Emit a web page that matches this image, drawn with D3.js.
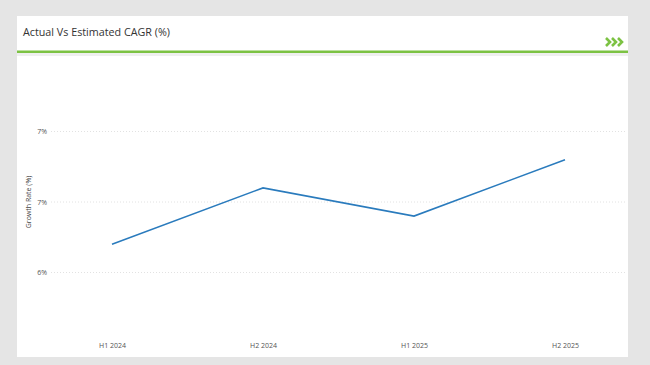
<!DOCTYPE html>
<html><head><meta charset="utf-8">
<script src="https://cdn.jsdelivr.net/npm/d3@7"></script>
<style>html,body{margin:0;padding:0;background:#e5e5e5;}svg{display:block;}</style>
</head><body>
<script>
const categories = ["H1 2024", "H2 2024", "H1 2025", "H2 2025"];
const growthRate = [6.7, 7.1, 6.9, 7.3];
const yTickValues = [6.5, 7.0, 7.5];
const yTickLabels = ["6%", "7%", "7%"];
const titleText = "Actual Vs Estimated CAGR (%)";
const yAxisTitle = "Growth Rate (%)";

const W = 650, H = 365;
const svg = d3.select("body").append("svg").attr("width", W).attr("height", H);
svg.append("rect").attr("width", W).attr("height", H).attr("fill", "#e5e5e5");
// header panel
svg.append("rect").attr("x", 17).attr("y", 16).attr("width", 611).attr("height", 37).attr("fill", "#fff");
svg.append("rect").attr("x", 17).attr("y", 53).attr("width", 611).attr("height", 3).attr("fill", "#efefef");
svg.append("rect").attr("x", 17).attr("y", 56).attr("width", 611).attr("height", 301).attr("fill", "#fff");
svg.append("rect").attr("x", 17).attr("y", 50.5).attr("width", 611).attr("height", 2.5).attr("fill", "#7cc243");
svg.append("text").attr("x", 23).attr("y", 36).text(titleText)
  .attr("font-family", "Open Sans, sans-serif").attr("font-size", 10.5).attr("fill", "#333")
  .attr("textLength", 147).attr("lengthAdjust", "spacingAndGlyphs");
// chevrons
const chev = svg.append("g").attr("fill", "none").attr("stroke", "#7cc243").attr("stroke-width", 2.6);
[0, 6, 12].forEach(o => {
  chev.append("path").attr("d", `M${606 + o},38 L${610 + o},42 L${606 + o},46`);
});

const x = d3.scalePoint().domain(categories).range([112, 565]);
const y = d3.scaleLinear().domain([6.5, 7.5]).range([272.5, 131.5]);

// grid
svg.append("g").selectAll("line").data(yTickValues).join("line")
  .attr("x1", 51).attr("x2", 627).attr("y1", d => y(d)).attr("y2", d => y(d))
  .attr("stroke", "#e2e2e2").attr("stroke-width", 1).attr("stroke-dasharray", "1,2");

// y axis
const yAxis = d3.axisLeft(y).tickValues(yTickValues).tickSize(0).tickPadding(0)
  .tickFormat((d, i) => yTickLabels[i]);
const ya = svg.append("g").attr("transform", "translate(47,0)").call(yAxis);
ya.select(".domain").remove();
ya.selectAll("text").attr("font-family", "Open Sans, sans-serif").attr("font-size", 7).attr("fill", "#555");

svg.append("text").attr("transform", "translate(31,202) rotate(-90)").attr("text-anchor", "middle")
  .attr("font-family", "Open Sans, sans-serif").attr("font-size", 7).attr("fill", "#444").text(yAxisTitle);

// x axis
const xAxis = d3.axisBottom(x).tickSize(0).tickPadding(0);
const xa = svg.append("g").attr("transform", "translate(0,343)").call(xAxis);
xa.select(".domain").remove();
xa.selectAll("text").attr("font-family", "Open Sans, sans-serif").attr("font-size", 7).attr("fill", "#555");

// line
const line = d3.line().x((d, i) => x(categories[i])).y(d => y(d));
svg.append("path").datum(growthRate).attr("d", line)
  .attr("fill", "none").attr("stroke", "#2a7bbd").attr("stroke-width", 1.6);
</script>
</body></html>
